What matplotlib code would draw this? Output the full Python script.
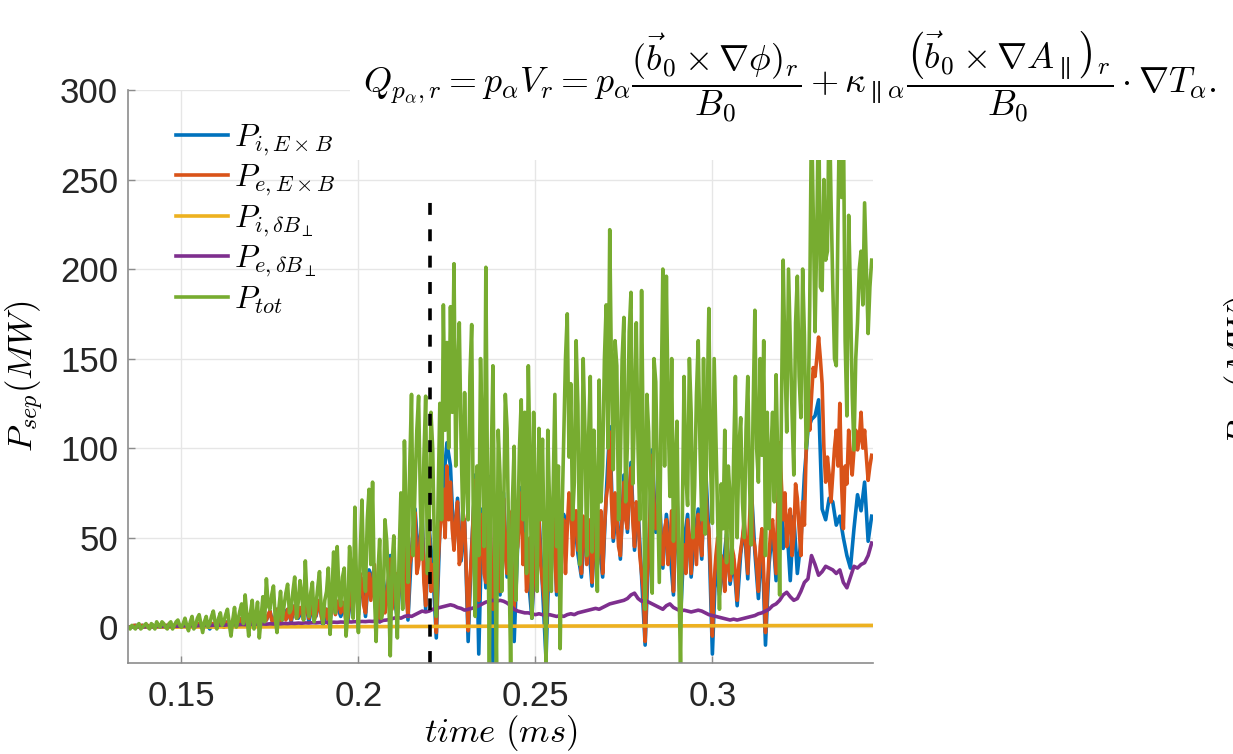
import numpy as np
import matplotlib
matplotlib.use('Agg')
import matplotlib.pyplot as plt
from matplotlib.patches import Rectangle

plt.rcParams['mathtext.fontset'] = 'cm'
plt.rcParams['font.family'] = ['Liberation Sans', 'DejaVu Sans']

# time axes (ms): 1 us and 0.5 us sampling
t = np.linspace(0.135, 0.345, 211)
t_fine = np.linspace(0.135, 0.345, 421)

# P_{i,ExB} (on t)
p_i_exb = [0, 0, 1, 0, 1, 0, 0, 1, 0, 1, 0, 1, 0, 1, 1, 0,
           1, 0, 2, 0, 2, 1, 3, -1, 2, 1, 4, 0, 3, 2, 5,
           1, 5, 3, 7, 1, 6, 0, 8, 4, 9, 1, 10, 2, 8, 10,
           3, 12, 5, 9, 16, 3, 12, 6, 15, 1, 10, 4, 17, 12, 6,
           11, 3, 20, 38, 7, 27, 6, 32, 27, 8, 3, 27, 13, 40, 18,
           5, 32, 55, 4, 43, 66, 37, 62, 10, 55, 33, -6, 55, 80, 103,
           90, 45, 72, 37, 60, -8, 45, 85, -15, 66, 22, 84, -20, 48,
           18, 75, 28, 57, -8, 47, 78, 54, 28, 5, 42, 63, 23, -18, 47, 70,
           18, 37, 63, 57, 73, 61, 41, 28, 57, 48, 23, 62, 47, 28, 74,
           112, 48, 66, 38, 85, 53, 92, 43, 66, 28, -10, 42, 99, 53, 75, 33,
           63, 44, 18, 75, 5, 48, 63, 28, 52, 66, 38, 92, 53, -15, 38, 18,
           33, 52, 24, 38, 12, 41,
           57, 27, 78, 42, 16, 50, -10, 35, 55, 26, 95, 44, 58, 26, 62, 30,
           48, 85, 110, 116, 118, 127, 66, 60, 72, 70, 57, 62, 50, 40, 33,
           55, 74, 65, 81, 48, 62]

# P_{e,ExB} (on t_fine)
p_e_exb = [0, 0, 0, 1, 1, 0, 0, 1, 1, 0, 0, 1, 0, 0, 1, 0, 0, 1, 1, 0, 0, 1, 1, 0, 0, 1, 1, 0, 1, 1, 0, 1,
           1, 0, 0, 1, 2, 1, 0, 1, 2, 0, 1, 2, 3, 1, 0, 2, 2, 0, 1, 3, 4, 1, 0, 2, 3, 1, 2, 4, 5, 2,
           1, 3, 5, 1, 3, 6, 7, 3, 2, 4, 6, 2, 1, 5, 8, 3, 4, 7, 9, 4, 2, 6, 10, 5, 3, 7, 8, 4, 10, 6,
           4, 9, 12, 5, 6, 11, 9, 4, 16, 10, 5, 9, 12, 4, 7, 11, 15, 6, 3, 9, 10, 2, 6, 12, 17, 7, 12, 15, 8, 14,
           11, 3, 5, 14, 20, 28, 36, 18, 10, 30, 25, 12, 8, 22, 30, 15, 25, 35, 10, 18, 5, 30, 25, 8, 15, 28,
           38, 10, 20, 30,
           8, 22, 30, 45, 52, 20, 6, 35, 40, 55, 64, 30, 35, 50, 59, 25, 12, 40, 53, 20, 35, 30, -3, 35,
           53, 62, 77, 50, 90, 60,
           81, 55, 43, 60, 70, 35, 40, 65, 58, 30, -2, 25, 43, 65, 82, 40, 15, 50, 63, 30, 25, 60, 81, 40,
           10, 35, 45, 65,
           20, 50, 72, 40, 30, 65, 55, 25, 10, 40, 45, 60, 75, 35, 52, 20, 30, 50, 8, 30, 40, 55, 60, 35,
           25, 15, -5, 30, 45, 60, 68, 40,
           20, 45, 35, 55, 60, 30, 55, 75, 70, 40, 59, 65, 43, 55, 30, 62, 55, 35, 46, 60, 25, 45, 60, 35,
           45, 65, 30, 55, 72, 80,
           109, 70, 50, 75, 63, 45, 40, 60, 81, 60, 55, 75, 89, 60, 45, 70, 63, 40, 30, 20, -8, 25, 40, 70,
           96, 70, 55, 60, 72, 45, 35, 55,
           60, 35, 46, 65, 20, 50, 72, 40, 10, 45, 46, 30, 60, 45, 30, 65, 50, 35, 63, 50, 40, 70, 89, 60,
           55, 30, -5, 25, 40, 50, 20, 40,
           35, 20, 50, 35, 26, 45, 40, 30, 15, 35, 43, 50,
           60, 45, 30, 60, 81, 50, 45, 35, 20, 45, 55, 30, -3, 20, 40, 55, 60, 45, 30, 70, 103, 80, 60, 75,
           45, 60, 66, 40, 50, 80, 72, 55,
           40, 70, 57, 100, 129, 110, 129, 145, 140, 150, 162, 150, 136, 100, 81, 95, 85, 70, 85, 100,
           110, 90, 125, 80, 55, 90, 80, 110, 96, 85,
           99, 110, 99, 105, 120, 100, 110, 95, 82, 90, 96]

# P_{i,dB_perp}
t_i_db = [0.135, 0.16, 0.2, 0.25, 0.3, 0.345]
p_i_db = [0.0, 0.1, 0.3, 0.6, 0.8, 1.0]

# P_{e,dB_perp} (on t)
p_e_db = [0.0, 0.1, 0.0, 0.2, 0.1, 0.2, 0.3, 0.2, 0.4, 0.3, 0.4, 0.5, 0.4, 0.6, 0.5, 0.6,
          0.7, 0.6, 0.8, 0.7, 0.9, 0.8, 1.0, 0.9, 1.1, 1.0, 1.2, 1.1, 1.3, 1.2, 1.4,
          1.3, 1.5, 1.4, 1.6, 1.5, 1.7, 1.6, 1.8, 1.7, 1.9, 1.8, 2.0, 1.9, 2.1, 2.0,
          2.2, 2.1, 2.3, 2.2, 2.4, 2.3, 2.5, 2.4, 2.6, 2.5, 2.7, 2.6, 2.8, 2.7, 2.9,
          2.8, 3.0, 2.9, 3.1, 3.0, 3.2, 3.1, 3.3, 3.2, 3.5, 3.0, 3.8, 4.0, 4.5, 5.0,
          5.5, 5.0, 6.0, 6.5, 6.0, 7.0, 8.0, 9.0, 8.5, 9.0, 10.0, 10.5, 11.0, 11.5, 12.0,
          12.5, 12.0, 11.0, 10.5, 9.5, 10.0, 10.5, 11.0, 12.0, 13.0, 14.0, 14.5, 15.0, 14.5,
          15.0, 14.5, 13.5, 12.0, 10.0, 9.0, 8.5, 8.0, 8.0, 7.5, 7.0, 7.5, 7.0, 6.5, 7.0, 6.5,
          6.0, 6.5, 6.0, 7.0, 7.5, 7.0, 8.0, 8.5, 9.0, 9.5, 10.0, 10.5, 10.0, 11.0, 12.0,
          13.0, 13.5, 14.0, 14.5, 15.0, 16.0, 18.0, 19.0, 16.0, 14.5, 15.0, 14.0, 13.0, 12.0,
          11.0, 10.0, 12.0, 13.0, 11.0, 10.0, 9.0, 9.5, 9.0, 8.5, 9.0, 9.5, 9.0, 8.0, 7.0,
          6.5, 6.0, 5.5, 5.0, 4.5, 4.0, 4.5, 4.0, 4.5,
          5.0, 5.5, 6.0, 6.5, 7.5, 8.0, 9.0, 10.0, 12.0, 13.0, 15.0, 18.0, 19.5, 17.0, 15.0,
          16.0, 20.0, 25.0, 27.0, 40.0, 35.0, 29.0, 31.0, 34.0, 33.0, 32.0, 30.0, 32.0, 25.0,
          22.0, 28.0, 34.0, 33.0, 35.0, 36.0, 40.0, 47.0]

# P_tot (on t_fine)
p_tot = [0, -1, 1, 0, -1, 1, 2, -1, 0, 1, 2, 0, -1, 2, 1, -1, 3, 1, 0, 3, 2, 0, -1, 2, 3, -1, 1, 3,
         4, 1, 0, 2,
         5, 1, -2, 3, 6, -1, 1, 5, 7, 2, -3, 3, 6, 0, 2, 6, 9, 3, -1, 5, 8, 1, 3, 7, 10, 2, -5, 4, 11, 0,
         4, 9, 13, 2, 18, 6, -5, 8, 15, -1, 6, 14, -6, 5, 17, 3, 27, 12, 10, 18, 23, 5, -3, 10, 20, 4,
         12, 19, 24, 8,
         10, 20, 28, 5, 14, 26, 18, 4, 37, 15, 6, 19, 25, 3, 12, 22, 31, 10, 2, 15, 20, 33, -4, 18,
         42, 8, 45, 20, 12, 28,
         33, -5, 8, 45, 30, 5, 67, 20, -3, 40, 71, 30, 20, 60, 77, 35, 81, 20, -8, 30, 49, 5, 10, 60,
         48, 22, -16, 35,
         51, 20, -6, 40, 75, 10, 104, 60, 25, 90, 130, 40, 79, 110, 129, 70, 38, 95, 129, 30, 60, 120,
         99, 40, 6, 70, 125, 60, 180, 110,
         159, 100, 179, 120, 203, 90, 141, 170, 103, 60, 131, 80, 60, 140, 169, 50, 6, 90, 40, 150,
         103, 45, 201, 70, -20, 90, 146, 40, -20, 110,
         85, 20, 60, 130, 111, 40, -20, 70, 101, 15, 52, 100, 127, 60, 120, 30, 146, 90, 5, 120, 68, 20,
         111, 60, 105, 40, -20, 110, 68, 20, 75, 130,
         45, 90, -12, 60, 106, 150, 175, 95, 136, 60, 81, 160, 124, 35, 68, 150, 109, 40, 105, 140,
         42, 110, 73, 20, 138, 70, 90, 150, 180, 100,
         222, 140, 88, 160, 146, 60, 90, 150, 173, 70, 103, 165, 187, 80, 120, 170, 99, 60, 188, 90,
         10, 130, 109, 60, 19, 150, 137, 80, 25, 120, 200, 90,
         196, 120, 73, 150, 48, 90, 115, 30, -22, 60, 140, 85, 68, 150, 120, 50, 79, 130, 160, 100,
         60, 150, 52, 120, 178, 90, 58, 150, 105, 60, 10, 80,
         55, 110, 36, 90, 72, 30, 95, 140, 50, 100, 117, 70,
         50, 110, 140, 80, 46, 120, 177, 100, 81, 150, 96, 160, 40, 120, 55, 95, 120, 70, 141, 90,
         18, 120, 205, 150, 109, 200, 159, 120, 85, 170, 196, 140,
         117, 200, 163, 100, 112, 180, 290, 230, 165, 220, 300, 190, 188, 250, 205, 210, 300, 240,
         192, 150, 146, 230, 300, 240, 290, 160, 118, 230, 187, 130,
         99, 150, 170, 200, 210, 180, 237, 200, 164, 190, 205]

# separatrix crossing time and dashed marker extent
t_sep = 0.2201
sep_y = [-20, 240]

labels = [r'$P_{i,E\times B}$', r'$P_{e,E\times B}$', r'$P_{i,\delta B_\perp}$',
          r'$P_{e,\delta B_\perp}$', r'$P_{tot}$']
colors = ['#0072BD', '#D95319', '#EDB120', '#7E2F8E', '#77AC30']

fig = plt.figure(figsize=(12.33, 7.54), dpi=100)
ax = fig.add_axes([0.1038, 0.1207, 0.6043, 0.7599])

lw = 2.6
ax.plot(t, p_i_exb, color=colors[0], lw=lw, label=labels[0])
ax.plot(t_fine, p_e_exb, color=colors[1], lw=lw, label=labels[1])
ax.plot(t_i_db, p_i_db, color=colors[2], lw=lw, label=labels[2])
ax.plot(t, p_e_db, color=colors[3], lw=lw, label=labels[3])
ax.plot(t_fine, p_tot, color=colors[4], lw=lw, label=labels[4])
ax.plot([t_sep, t_sep], sep_y, 'k--', lw=2.6, dashes=(3.3, 4.0))

ax.set_xlim(0.1349, 0.3454)
ax.set_ylim(-20, 300)
ax.set_xticks([0.15, 0.2, 0.25, 0.3])
ax.set_xticklabels(['0.15', '0.2', '0.25', '0.3'])
ax.set_yticks([0, 50, 100, 150, 200, 250, 300])

ax.grid(True, color='#e6e6e6', lw=1.0)
ax.set_axisbelow(True)
for s in ['top', 'right']:
    ax.spines[s].set_visible(False)
for s in ['left', 'bottom']:
    ax.spines[s].set_color('#8c8c8c')
    ax.spines[s].set_linewidth(1.2)
ax.tick_params(direction='in', length=5, width=1, colors='#8c8c8c',
               labelcolor='#262626', labelsize=25)
ax.tick_params(axis='x', pad=12)
ax.tick_params(axis='y', pad=7)

ax.set_xlabel(r'$time\ (ms)$', fontsize=25, labelpad=0)
ax.set_ylabel(r'$P_{sep}(MW)$', fontsize=25, labelpad=10)

leg = ax.legend(loc='upper left', bbox_to_anchor=(0.065, 0.943), frameon=False,
                fontsize=23, handlelength=1.6, handletextpad=0.2,
                labelspacing=0.16, borderaxespad=0, borderpad=0)

# pasted equation image covers top right of the figure
fig.add_artist(Rectangle((0.2839, 0.7878), 0.7161, 0.2122, transform=fig.transFigure,
                         facecolor='white', edgecolor='none', zorder=10))
eq = (r'$Q_{p_\alpha,r} = p_\alpha V_r = p_\alpha \dfrac{(\vec{b}_0 \times \nabla\phi)_r}{B_0}'
      r' + \kappa_{\parallel\alpha}\dfrac{\left(\vec{b}_0 \times \nabla A_\parallel\right)_r}{B_0}'
      r' \cdot \nabla T_\alpha.$')
fig.text(363 / 1233, 1 - 94 / 754, eq, fontsize=26, ha='left', va='baseline', zorder=11)

# rotated label of the neighbouring panel, cut by the figure edge
fig.text(1223 / 1233, 1 - 371 / 754, r'$P_{sep}(MW)$', fontsize=25, rotation=90,
         ha='left', va='center', zorder=11)

fig.savefig('out.png', dpi=100)
